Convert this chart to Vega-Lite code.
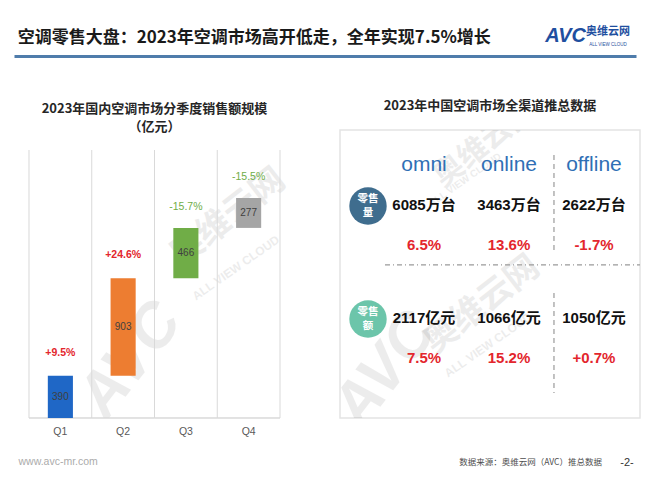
{
  "$schema": "https://vega.github.io/schema/vega-lite/v6.json",
  "background": "white",
  "padding": {"left": 14, "top": 0, "right": 10, "bottom": 6},
  "config": {"view": {"stroke": null}, "font": "Noto Sans CJK SC", "text": {"font": "Noto Sans CJK SC"}},
  "bounds": "flush",
  "spacing": 74,
  "datasets": {
    "quarters": [
      {"quarter": "Q1", "start": 0, "end": 390, "value": "390", "pct": "+9.5%", "growth": "up"},
      {"quarter": "Q2", "start": 390, "end": 1293, "value": "903", "pct": "+24.6%", "growth": "up"},
      {"quarter": "Q3", "start": 1293, "end": 1759, "value": "466", "pct": "-15.7%", "growth": "down"},
      {"quarter": "Q4", "start": 1759, "end": 2036, "value": "277", "pct": "-15.5%", "growth": "down"}
    ],
    "table": [
      {"channel": "omni", "metric": "零售量", "value": "6085万台", "pct": "6.5%"},
      {"channel": "online", "metric": "零售量", "value": "3463万台", "pct": "13.6%"},
      {"channel": "offline", "metric": "零售量", "value": "2622万台", "pct": "-1.7%"},
      {"channel": "omni", "metric": "零售额", "value": "2117亿元", "pct": "7.5%"},
      {"channel": "online", "metric": "零售额", "value": "1066亿元", "pct": "15.2%"},
      {"channel": "offline", "metric": "零售额", "value": "1050亿元", "pct": "+0.7%"}
    ],
    "metrics": [
      {"metric": "零售量", "badge": "零售\n量"},
      {"metric": "零售额", "badge": "零售\n额"}
    ],
    "header": [
      {"part": "title", "label": "空调零售大盘：2023年空调市场高开低走，全年实现7.5%增长"},
      {"part": "brand", "label": "AVC"},
      {"part": "cn", "label": "奥维云网"},
      {"part": "en", "label": "ALL VIEW CLOUD"}
    ],
    "footer": [
      {"part": "source", "label": "数据来源：奥维云网（AVC）推总数据"},
      {"part": "page", "label": "-2-"}
    ],
    "one": [{"k": 1}]
  },
  "vconcat": [
    {
      "width": 622,
      "height": 56,
      "data": {"name": "header"},
      "layer": [
        {
          "transform": [{"filter": "datum.part === 'title'"}],
          "mark": {"type": "text", "align": "left", "baseline": "middle", "fontSize": 17, "fontWeight": "bold", "color": "#1a1a1a"},
          "encoding": {
            "x": {"datum": 0.6, "type": "quantitative", "scale": {"domain": [0, 100]}, "axis": {"domain": true, "domainColor": "#4f7cab", "domainWidth": 3, "ticks": false, "labels": false, "grid": false, "title": null}},
            "y": {"datum": 32, "type": "quantitative", "scale": {"domain": [0, 100]}, "axis": null},
            "text": {"field": "label"}
          }
        },
        {
          "transform": [{"filter": "datum.part === 'brand'"}],
          "mark": {"type": "text", "align": "left", "baseline": "middle", "fontSize": 20, "fontWeight": "bold", "fontStyle": "italic", "font": "Liberation Sans", "color": "#1f4fa0"},
          "encoding": {
            "x": {"datum": 85.4, "type": "quantitative", "scale": {"domain": [0, 100]}, "axis": {"domain": true, "domainColor": "#4f7cab", "domainWidth": 3, "ticks": false, "labels": false, "grid": false, "title": null}},
            "y": {"datum": 36, "type": "quantitative", "scale": {"domain": [0, 100]}, "axis": null},
            "text": {"field": "label"}
          }
        },
        {
          "transform": [{"filter": "datum.part === 'cn'"}],
          "mark": {"type": "text", "align": "center", "baseline": "middle", "fontSize": 11, "fontWeight": "bold", "color": "#1f4fa0"},
          "encoding": {
            "x": {"datum": 95.5, "type": "quantitative", "scale": {"domain": [0, 100]}, "axis": {"domain": true, "domainColor": "#4f7cab", "domainWidth": 3, "ticks": false, "labels": false, "grid": false, "title": null}},
            "y": {"datum": 42, "type": "quantitative", "scale": {"domain": [0, 100]}, "axis": null},
            "text": {"field": "label"}
          }
        },
        {
          "transform": [{"filter": "datum.part === 'en'"}],
          "mark": {"type": "text", "align": "center", "baseline": "middle", "fontSize": 4.5, "font": "Liberation Sans", "color": "#1f4fa0"},
          "encoding": {
            "x": {"datum": 95.5, "type": "quantitative", "scale": {"domain": [0, 100]}, "axis": {"domain": true, "domainColor": "#4f7cab", "domainWidth": 3, "ticks": false, "labels": false, "grid": false, "title": null}},
            "y": {"datum": 20, "type": "quantitative", "scale": {"domain": [0, 100]}, "axis": null},
            "text": {"field": "label"}
          }
        }
      ]
    },
    {
      "bounds": "flush",
      "spacing": 45,
      "resolve": {"scale": {"color": "independent"}},
      "hconcat": [
        {
          "width": 281,
          "height": 288,
          "title": {"text": ["2023年国内空调市场分季度销售额规模", "（亿元）"], "fontSize": 13, "fontWeight": "bold", "color": "#262626", "offset": -4, "lineHeight": 18, "anchor": "middle"},
          "data": {"name": "quarters"},
          "layer": [
            {
              "data": {"name": "one"},
              "mark": {"type": "text", "text": "AVC", "font": "Liberation Sans", "fontSize": 62, "fontWeight": "bold", "fontStyle": "italic", "angle": 308, "color": "#000000", "opacity": 0.07, "align": "center", "baseline": "middle", "xOffset": 7, "clip": true},
              "encoding": {
                "x": {"datum": "Q2", "type": "nominal", "scale": {"type": "band", "domain": ["Q1", "Q2", "Q3", "Q4"], "paddingInner": 0, "paddingOuter": 0.239}, "axis": {"labelFontSize": 10.5, "labelColor": "#595959", "labelFont": "Liberation Sans", "labelPadding": 8, "labelAngle": 0, "ticks": false, "domain": false, "grid": false, "title": "www.avc-mr.com", "titleFont": "Liberation Sans", "titleFontWeight": "normal", "titleFontSize": 10.5, "titleColor": "#ababab", "titleAnchor": "start", "titleAlign": "left", "titleX": 4, "titleY": 43, "titleBaseline": "middle"}},
                "y": {"datum": 537, "type": "quantitative", "scale": {"domain": [0, 2665]}, "axis": null}
              }
            },
            {
              "data": {"name": "one"},
              "mark": {"type": "text", "text": "奥维云网", "fontSize": 34, "fontWeight": "bold", "angle": 322, "color": "#000000", "opacity": 0.07, "align": "center", "baseline": "middle", "xOffset": 42, "clip": true},
              "encoding": {
                "x": {"datum": "Q3", "type": "nominal", "scale": {"type": "band", "domain": ["Q1", "Q2", "Q3", "Q4"], "paddingInner": 0, "paddingOuter": 0.239}, "axis": {"labelFontSize": 10.5, "labelColor": "#595959", "labelFont": "Liberation Sans", "labelPadding": 8, "labelAngle": 0, "ticks": false, "domain": false, "grid": false, "title": "www.avc-mr.com", "titleFont": "Liberation Sans", "titleFontWeight": "normal", "titleFontSize": 10.5, "titleColor": "#ababab", "titleAnchor": "start", "titleAlign": "left", "titleX": 4, "titleY": 43, "titleBaseline": "middle"}},
                "y": {"datum": 1852, "type": "quantitative", "scale": {"domain": [0, 2665]}, "axis": null}
              }
            },
            {
              "data": {"name": "one"},
              "mark": {"type": "text", "text": "ALL VIEW CLOUD", "font": "Liberation Sans", "fontSize": 12, "fontWeight": "bold", "angle": 325, "color": "#000000", "opacity": 0.07, "align": "center", "baseline": "middle", "xOffset": 50, "clip": true},
              "encoding": {
                "x": {"datum": "Q3", "type": "nominal", "scale": {"type": "band", "domain": ["Q1", "Q2", "Q3", "Q4"], "paddingInner": 0, "paddingOuter": 0.239}, "axis": {"labelFontSize": 10.5, "labelColor": "#595959", "labelFont": "Liberation Sans", "labelPadding": 8, "labelAngle": 0, "ticks": false, "domain": false, "grid": false, "title": "www.avc-mr.com", "titleFont": "Liberation Sans", "titleFontWeight": "normal", "titleFontSize": 10.5, "titleColor": "#ababab", "titleAnchor": "start", "titleAlign": "left", "titleX": 4, "titleY": 43, "titleBaseline": "middle"}},
                "y": {"datum": 1389, "type": "quantitative", "scale": {"domain": [0, 2665]}, "axis": null}
              }
            },
            {
              "mark": {"type": "rule", "color": "#d9d9d9", "strokeWidth": 1},
              "encoding": {
                "x": {"field": "quarter", "type": "nominal", "bandPosition": 0, "scale": {"type": "band", "domain": ["Q1", "Q2", "Q3", "Q4"], "paddingInner": 0, "paddingOuter": 0.239}, "axis": {"labelFontSize": 10.5, "labelColor": "#595959", "labelFont": "Liberation Sans", "labelPadding": 8, "labelAngle": 0, "ticks": false, "domain": false, "grid": false, "title": "www.avc-mr.com", "titleFont": "Liberation Sans", "titleFontWeight": "normal", "titleFontSize": 10.5, "titleColor": "#ababab", "titleAnchor": "start", "titleAlign": "left", "titleX": 4, "titleY": 43, "titleBaseline": "middle"}},
                "y": {"datum": 0, "type": "quantitative", "scale": {"domain": [0, 2665]}, "axis": null},
                "y2": {"datum": 2480}
              }
            },
            {
              "transform": [{"filter": "datum.quarter === 'Q4'"}],
              "mark": {"type": "rule", "color": "#d9d9d9", "strokeWidth": 1},
              "encoding": {
                "x": {"field": "quarter", "type": "nominal", "bandPosition": 1, "scale": {"type": "band", "domain": ["Q1", "Q2", "Q3", "Q4"], "paddingInner": 0, "paddingOuter": 0.239}, "axis": {"labelFontSize": 10.5, "labelColor": "#595959", "labelFont": "Liberation Sans", "labelPadding": 8, "labelAngle": 0, "ticks": false, "domain": false, "grid": false, "title": "www.avc-mr.com", "titleFont": "Liberation Sans", "titleFontWeight": "normal", "titleFontSize": 10.5, "titleColor": "#ababab", "titleAnchor": "start", "titleAlign": "left", "titleX": 4, "titleY": 43, "titleBaseline": "middle"}},
                "y": {"datum": 0, "type": "quantitative", "scale": {"domain": [0, 2665]}, "axis": null},
                "y2": {"datum": 2480}
              }
            },
            {
              "mark": {"type": "rect", "fillOpacity": 0, "stroke": "#d9d9d9", "strokeWidth": 1},
              "encoding": {
                "x": {"field": "quarter", "type": "nominal", "scale": {"type": "band", "domain": ["Q1", "Q2", "Q3", "Q4"], "paddingInner": 0, "paddingOuter": 0.239}, "axis": {"labelFontSize": 10.5, "labelColor": "#595959", "labelFont": "Liberation Sans", "labelPadding": 8, "labelAngle": 0, "ticks": false, "domain": false, "grid": false, "title": "www.avc-mr.com", "titleFont": "Liberation Sans", "titleFontWeight": "normal", "titleFontSize": 10.5, "titleColor": "#ababab", "titleAnchor": "start", "titleAlign": "left", "titleX": 4, "titleY": 43, "titleBaseline": "middle"}},
                "y": {"datum": 0, "type": "quantitative", "scale": {"domain": [0, 2665]}, "axis": null},
                "y2": {"datum": 0}
              }
            },
            {
              "mark": {"type": "bar", "width": {"band": 0.4}},
              "encoding": {
                "x": {"field": "quarter", "type": "nominal", "scale": {"type": "band", "domain": ["Q1", "Q2", "Q3", "Q4"], "paddingInner": 0, "paddingOuter": 0.239}, "axis": {"labelFontSize": 10.5, "labelColor": "#595959", "labelFont": "Liberation Sans", "labelPadding": 8, "labelAngle": 0, "ticks": false, "domain": false, "grid": false, "title": "www.avc-mr.com", "titleFont": "Liberation Sans", "titleFontWeight": "normal", "titleFontSize": 10.5, "titleColor": "#ababab", "titleAnchor": "start", "titleAlign": "left", "titleX": 4, "titleY": 43, "titleBaseline": "middle"}},
                "y": {"field": "start", "type": "quantitative", "scale": {"domain": [0, 2665]}, "axis": null},
                "y2": {"field": "end"},
                "color": {"field": "quarter", "type": "nominal", "scale": {"domain": ["Q1", "Q2", "Q3", "Q4"], "range": ["#1f67c6", "#ed7d31", "#70ad47", "#a5a5a5"]}, "legend": null}
              }
            },
            {
              "transform": [{"fold": ["start", "end"], "as": ["k", "v"]}],
              "mark": {"type": "text", "fontSize": 10, "font": "Liberation Sans", "color": "#404040", "baseline": "middle"},
              "encoding": {
                "x": {"field": "quarter", "type": "nominal", "scale": {"type": "band", "domain": ["Q1", "Q2", "Q3", "Q4"], "paddingInner": 0, "paddingOuter": 0.239}, "axis": {"labelFontSize": 10.5, "labelColor": "#595959", "labelFont": "Liberation Sans", "labelPadding": 8, "labelAngle": 0, "ticks": false, "domain": false, "grid": false, "title": "www.avc-mr.com", "titleFont": "Liberation Sans", "titleFontWeight": "normal", "titleFontSize": 10.5, "titleColor": "#ababab", "titleAnchor": "start", "titleAlign": "left", "titleX": 4, "titleY": 43, "titleBaseline": "middle"}},
                "y": {"aggregate": "mean", "field": "v", "type": "quantitative", "scale": {"domain": [0, 2665]}, "axis": null},
                "text": {"field": "value"}
              }
            },
            {
              "transform": [{"filter": "datum.growth === 'up'"}],
              "mark": {"type": "text", "fontSize": 10.5, "fontWeight": "bold", "font": "Liberation Sans", "color": "#e3262d", "baseline": "middle", "dy": -23},
              "encoding": {
                "x": {"field": "quarter", "type": "nominal", "scale": {"type": "band", "domain": ["Q1", "Q2", "Q3", "Q4"], "paddingInner": 0, "paddingOuter": 0.239}, "axis": {"labelFontSize": 10.5, "labelColor": "#595959", "labelFont": "Liberation Sans", "labelPadding": 8, "labelAngle": 0, "ticks": false, "domain": false, "grid": false, "title": "www.avc-mr.com", "titleFont": "Liberation Sans", "titleFontWeight": "normal", "titleFontSize": 10.5, "titleColor": "#ababab", "titleAnchor": "start", "titleAlign": "left", "titleX": 4, "titleY": 43, "titleBaseline": "middle"}},
                "y": {"field": "end", "type": "quantitative", "scale": {"domain": [0, 2665]}, "axis": null},
                "text": {"field": "pct"}
              }
            },
            {
              "transform": [{"filter": "datum.growth === 'down'"}],
              "mark": {"type": "text", "fontSize": 10.5, "font": "Liberation Sans", "color": "#70ad47", "baseline": "middle", "dy": -21},
              "encoding": {
                "x": {"field": "quarter", "type": "nominal", "scale": {"type": "band", "domain": ["Q1", "Q2", "Q3", "Q4"], "paddingInner": 0, "paddingOuter": 0.239}, "axis": {"labelFontSize": 10.5, "labelColor": "#595959", "labelFont": "Liberation Sans", "labelPadding": 8, "labelAngle": 0, "ticks": false, "domain": false, "grid": false, "title": "www.avc-mr.com", "titleFont": "Liberation Sans", "titleFontWeight": "normal", "titleFontSize": 10.5, "titleColor": "#ababab", "titleAnchor": "start", "titleAlign": "left", "titleX": 4, "titleY": 43, "titleBaseline": "middle"}},
                "y": {"field": "end", "type": "quantitative", "scale": {"domain": [0, 2665]}, "axis": null},
                "text": {"field": "pct"}
              }
            }
          ]
        },
        {
          "width": 300,
          "height": 288,
          "view": {"stroke": "#e4e4e4", "strokeWidth": 1.5, "fill": "white"},
          "title": {"text": "2023年中国空调市场全渠道推总数据", "fontSize": 13, "fontWeight": "bold", "color": "#262626", "offset": 17, "anchor": "middle"},
          "layer": [
            {
              "data": {"name": "one"},
              "mark": {"type": "text", "text": "AVC", "font": "Liberation Sans", "fontSize": 62, "fontWeight": "bold", "fontStyle": "italic", "angle": 308, "color": "#000000", "opacity": 0.07, "align": "center", "baseline": "middle", "xOffset": -39, "yOffset": 51, "clip": true},
              "encoding": {
                "x": {"datum": "omni", "type": "nominal", "scale": {"type": "point", "domain": ["omni", "online", "offline"], "padding": 0.765, "align": 0.646}, "axis": null},
                "y": {"datum": "零售额", "type": "nominal", "scale": {"type": "point", "domain": ["零售量", "零售额"], "padding": 0.774, "align": 0.434}, "axis": null}
              }
            },
            {
              "data": {"name": "one"},
              "mark": {"type": "text", "text": "奥维云网", "fontSize": 34, "fontWeight": "bold", "angle": 322, "color": "#000000", "opacity": 0.07, "align": "center", "baseline": "middle", "xOffset": -27, "yOffset": -14, "clip": true},
              "encoding": {
                "x": {"datum": "online", "type": "nominal", "scale": {"type": "point", "domain": ["omni", "online", "offline"], "padding": 0.765, "align": 0.646}, "axis": null},
                "y": {"datum": "零售额", "type": "nominal", "scale": {"type": "point", "domain": ["零售量", "零售额"], "padding": 0.774, "align": 0.434}, "axis": null}
              }
            },
            {
              "data": {"name": "one"},
              "mark": {"type": "text", "text": "ALL VIEW CLOUD", "font": "Liberation Sans", "fontSize": 12, "fontWeight": "bold", "angle": 325, "color": "#000000", "opacity": 0.07, "align": "center", "baseline": "middle", "xOffset": -21, "yOffset": 26, "clip": true},
              "encoding": {
                "x": {"datum": "online", "type": "nominal", "scale": {"type": "point", "domain": ["omni", "online", "offline"], "padding": 0.765, "align": 0.646}, "axis": null},
                "y": {"datum": "零售额", "type": "nominal", "scale": {"type": "point", "domain": ["零售量", "零售额"], "padding": 0.774, "align": 0.434}, "axis": null}
              }
            },
            {
              "data": {"name": "one"},
              "mark": {"type": "text", "text": "奥维云网", "fontSize": 30, "fontWeight": "bold", "angle": 322, "color": "#000000", "opacity": 0.07, "align": "center", "baseline": "middle", "xOffset": -24, "yOffset": -62, "clip": true},
              "encoding": {
                "x": {"datum": "online", "type": "nominal", "scale": {"type": "point", "domain": ["omni", "online", "offline"], "padding": 0.765, "align": 0.646}, "axis": null},
                "y": {"datum": "零售量", "type": "nominal", "scale": {"type": "point", "domain": ["零售量", "零售额"], "padding": 0.774, "align": 0.434}, "axis": null}
              }
            },
            {
              "data": {"name": "one"},
              "mark": {"type": "text", "text": "ALL VIEW CLOUD", "font": "Liberation Sans", "fontSize": 10, "fontWeight": "bold", "angle": 325, "color": "#000000", "opacity": 0.07, "align": "center", "baseline": "middle", "xOffset": -44, "yOffset": -26, "clip": true},
              "encoding": {
                "x": {"datum": "online", "type": "nominal", "scale": {"type": "point", "domain": ["omni", "online", "offline"], "padding": 0.765, "align": 0.646}, "axis": null},
                "y": {"datum": "零售量", "type": "nominal", "scale": {"type": "point", "domain": ["零售量", "零售额"], "padding": 0.774, "align": 0.434}, "axis": null}
              }
            },
            {
              "data": {"name": "one"},
              "mark": {"type": "rule", "color": "#9a9a9a", "strokeWidth": 1.2, "strokeDash": [5, 3, 1, 3], "xOffset": -39, "x2Offset": 46, "yOffset": 59},
              "encoding": {
                "x": {"datum": "omni", "type": "nominal", "scale": {"type": "point", "domain": ["omni", "online", "offline"], "padding": 0.765, "align": 0.646}, "axis": null},
                "x2": {"datum": "offline"},
                "y": {"datum": "零售量", "type": "nominal", "scale": {"type": "point", "domain": ["零售量", "零售额"], "padding": 0.774, "align": 0.434}, "axis": null}
              }
            },
            {
              "data": {"name": "one"},
              "mark": {"type": "rule", "color": "#9a9a9a", "strokeWidth": 1.2, "strokeDash": [5, 4], "xOffset": -40, "yOffset": -51, "y2Offset": 44},
              "encoding": {
                "x": {"datum": "offline", "type": "nominal", "scale": {"type": "point", "domain": ["omni", "online", "offline"], "padding": 0.765, "align": 0.646}, "axis": null},
                "y": {"datum": "零售量", "type": "nominal", "scale": {"type": "point", "domain": ["零售量", "零售额"], "padding": 0.774, "align": 0.434}, "axis": null},
                "y2": {"datum": "零售量"}
              }
            },
            {
              "data": {"name": "one"},
              "mark": {"type": "rule", "color": "#9a9a9a", "strokeWidth": 1.2, "strokeDash": [5, 4], "xOffset": -40, "yOffset": -26, "y2Offset": 74},
              "encoding": {
                "x": {"datum": "offline", "type": "nominal", "scale": {"type": "point", "domain": ["omni", "online", "offline"], "padding": 0.765, "align": 0.646}, "axis": null},
                "y": {"datum": "零售额", "type": "nominal", "scale": {"type": "point", "domain": ["零售量", "零售额"], "padding": 0.774, "align": 0.434}, "axis": null},
                "y2": {"datum": "零售额"}
              }
            },
            {
              "data": {"name": "metrics"},
              "mark": {"type": "circle", "size": 1400, "opacity": 1, "xOffset": -56},
              "encoding": {
                "x": {"datum": "omni", "type": "nominal", "scale": {"type": "point", "domain": ["omni", "online", "offline"], "padding": 0.765, "align": 0.646}, "axis": null},
                "y": {"field": "metric", "type": "nominal", "scale": {"type": "point", "domain": ["零售量", "零售额"], "padding": 0.774, "align": 0.434}, "axis": null},
                "color": {"field": "metric", "type": "nominal", "scale": {"domain": ["零售量", "零售额"], "range": ["#3f6d8e", "#6cc5aa"]}, "legend": null}
              }
            },
            {
              "data": {"name": "metrics"},
              "mark": {"type": "text", "fontSize": 10.5, "fontWeight": "bold", "color": "white", "lineBreak": "\n", "lineHeight": 14, "baseline": "middle", "xOffset": -56, "dy": -7},
              "encoding": {
                "x": {"datum": "omni", "type": "nominal", "scale": {"type": "point", "domain": ["omni", "online", "offline"], "padding": 0.765, "align": 0.646}, "axis": null},
                "y": {"field": "metric", "type": "nominal", "scale": {"type": "point", "domain": ["零售量", "零售额"], "padding": 0.774, "align": 0.434}, "axis": null},
                "text": {"field": "badge"}
              }
            },
            {
              "data": {"name": "table"},
              "transform": [{"filter": "datum.metric === '零售量'"}],
              "mark": {"type": "text", "fontSize": 21, "font": "Liberation Sans", "color": "#2f6fb5", "baseline": "middle", "yOffset": -41},
              "encoding": {
                "x": {"field": "channel", "type": "nominal", "scale": {"type": "point", "domain": ["omni", "online", "offline"], "padding": 0.765, "align": 0.646}, "axis": null},
                "y": {"field": "metric", "type": "nominal", "scale": {"type": "point", "domain": ["零售量", "零售额"], "padding": 0.774, "align": 0.434}, "axis": null},
                "text": {"field": "channel"}
              }
            },
            {
              "data": {"name": "table"},
              "mark": {"type": "text", "fontSize": 15, "fontWeight": "bold", "font": "Liberation Sans, Noto Sans CJK SC", "color": "#111111", "baseline": "middle", "yOffset": -1},
              "encoding": {
                "x": {"field": "channel", "type": "nominal", "scale": {"type": "point", "domain": ["omni", "online", "offline"], "padding": 0.765, "align": 0.646}, "axis": null},
                "y": {"field": "metric", "type": "nominal", "scale": {"type": "point", "domain": ["零售量", "零售额"], "padding": 0.774, "align": 0.434}, "axis": null},
                "text": {"field": "value"}
              }
            },
            {
              "data": {"name": "table"},
              "mark": {"type": "text", "fontSize": 15, "fontWeight": "bold", "font": "Liberation Sans", "color": "#e3262d", "baseline": "middle", "yOffset": 39},
              "encoding": {
                "x": {"field": "channel", "type": "nominal", "scale": {"type": "point", "domain": ["omni", "online", "offline"], "padding": 0.765, "align": 0.646}, "axis": null},
                "y": {"field": "metric", "type": "nominal", "scale": {"type": "point", "domain": ["零售量", "零售额"], "padding": 0.774, "align": 0.434}, "axis": null},
                "text": {"field": "pct"}
              }
            },
            {
              "data": {"name": "footer"},
              "transform": [{"filter": "datum.part === 'source'"}],
              "mark": {"type": "text", "fontSize": 8.5, "color": "#4d4d4d", "align": "right", "baseline": "middle", "xOffset": 8, "yOffset": 143},
              "encoding": {
                "x": {"datum": "offline", "type": "nominal", "scale": {"type": "point", "domain": ["omni", "online", "offline"], "padding": 0.765, "align": 0.646}, "axis": null},
                "y": {"datum": "零售额", "type": "nominal", "scale": {"type": "point", "domain": ["零售量", "零售额"], "padding": 0.774, "align": 0.434}, "axis": null},
                "text": {"field": "label"}
              }
            },
            {
              "data": {"name": "footer"},
              "transform": [{"filter": "datum.part === 'page'"}],
              "mark": {"type": "text", "fontSize": 11, "font": "Liberation Sans", "color": "#333333", "align": "center", "baseline": "middle", "xOffset": 33, "yOffset": 144},
              "encoding": {
                "x": {"datum": "offline", "type": "nominal", "scale": {"type": "point", "domain": ["omni", "online", "offline"], "padding": 0.765, "align": 0.646}, "axis": null},
                "y": {"datum": "零售额", "type": "nominal", "scale": {"type": "point", "domain": ["零售量", "零售额"], "padding": 0.774, "align": 0.434}, "axis": null},
                "text": {"field": "label"}
              }
            }
          ]
        }
      ]
    }
  ]
}
